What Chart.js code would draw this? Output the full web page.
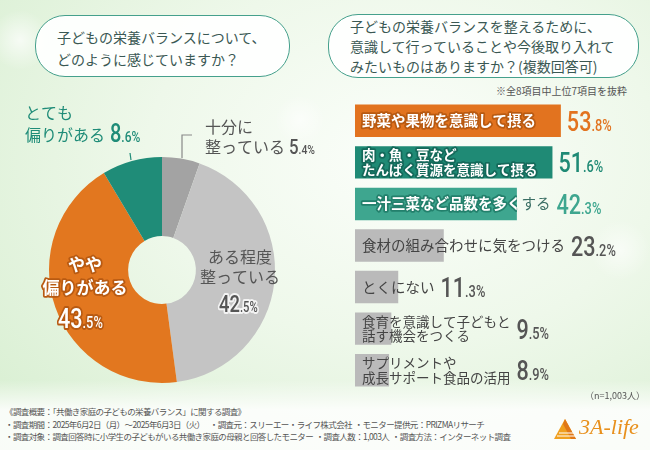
<!DOCTYPE html>
<html lang="ja">
<head>
<meta charset="utf-8">
<script src="https://cdn.jsdelivr.net/npm/chart.js@4"></script>
<style>
  html, body { margin: 0; padding: 0; }
  body {
    width: 650px; height: 450px; position: relative; overflow: hidden;
    font-family: "Noto Sans CJK JP", sans-serif;
    background:
      radial-gradient(circle at 20px 40px, rgba(255,255,255,0.7) 0, rgba(255,255,255,0) 30px),
      radial-gradient(circle at 300px 120px, rgba(255,255,255,0.6) 0, rgba(255,255,255,0) 25px),
      radial-gradient(circle at 620px 250px, rgba(255,255,255,0.6) 0, rgba(255,255,255,0) 30px),
      linear-gradient(to bottom, rgba(255,255,255,0) 380px, rgba(255,255,255,0.85) 410px),
      radial-gradient(ellipse at 62% 35%, #fbfefa 0%, #eef8ea 45%, #d6eecf 100%);
  }
  .q {
    position: absolute; box-sizing: border-box;
    border: 1.5px solid #45a08c; border-radius: 30px;
    background: rgba(255,255,255,0.92);
    color: #3a5853; font-size: 14px; line-height: 20px;
  }
  #q1 { left: 35px; top: 15px; width: 255px; height: 62px; padding: 10px 0 0 21px; line-height: 22px; }
  #q2 { left: 328px; top: 14px; width: 311px; height: 64px; padding: 1px 0 0 21px; line-height: 20px; }
  .note { position: absolute; color: #555; white-space: nowrap; }
  #excerpt { right: 23px; top: 83px; font-size: 10px; }
  #n { right: 5px; top: 389px; font-size: 9px; }
  #footer { left: 5px; top: 405px; font-size: 8.5px; letter-spacing: -0.6px; line-height: 12.5px; color: #555; }
  canvas { position: absolute; }
  #pie { left: 0; top: 100px; }
  #bars { left: 325px; top: 95px; }
  #logo { position: absolute; left: 553px; top: 418px; height: 26px; }
  #logo span {
    position: absolute; left: 26px; top: -4px;
    font-family: "Liberation Serif", serif; font-style: italic;
    font-size: 22px; color: #e8901c; white-space: nowrap;
  }
</style>
</head>
<body>
<div class="q" id="q1">子どもの栄養バランスについて、<br>どのように感じていますか？</div>
<div class="q" id="q2">子どもの栄養バランスを整えるために、<br>意識して行っていることや今後取り入れて<br>みたいものはありますか？(複数回答可)</div>
<div class="note" id="excerpt">※全8項目中上位7項目を抜粋</div>
<canvas id="pie" width="325" height="300"></canvas>
<canvas id="bars" width="325" height="300"></canvas>
<div class="note" id="n">（n=1,003人）</div>
<div class="note" id="footer">《調査概要：「共働き家庭の子どもの栄養バランス」に関する調査》<br>・調査期間：2025年6月2日（月）～2025年6月3日（火）&nbsp;&nbsp;&nbsp;&nbsp;・調査元：スリーエー・ライフ株式会社&nbsp;&nbsp;・モニター提供元：PRIZMAリサーチ<br>・調査対象：調査回答時に小学生の子どもがいる共働き家庭の母親と回答したモニター&nbsp;&nbsp;・調査人数：1,003人&nbsp;&nbsp;・調査方法：インターネット調査</div>
<div id="logo">
  <svg width="26" height="22" viewBox="0 0 26 22">
    <polygon points="12,1 1,21 23,21" fill="#f0a020"/>
    <polygon points="12,1 23,21 18,21 10,6" fill="#e07818"/>
    <line x1="6" y1="15" x2="20" y2="15" stroke="#fff" stroke-width="1"/>
    <line x1="4" y1="18" x2="22" y2="18" stroke="#fff" stroke-width="1"/>
  </svg>
  <span>3A-life</span>
</div>

<script>
// 左：円グラフ
const pieLabels = ['十分に整っている', 'ある程度整っている', 'やや偏りがある', 'とても偏りがある'];
const pieValues = [5.4, 42.5, 43.5, 8.6];
const pieColors = ['#a3a3a3', '#c4c4c4', '#e2771f', '#1f8c78'];

// 右：横棒グラフ（上位7項目）
const itemLabels = [
  ['野菜や果物を意識して摂る'],
  ['肉・魚・豆など', 'たんぱく質源を意識して摂る'],
  ['一汁三菜など品数を多くする'],
  ['食材の組み合わせに気をつける'],
  ['とくにない'],
  ['食育を意識して子どもと', '話す機会をつくる'],
  ['サプリメントや', '成長サポート食品の活用']
];
const itemValues = [53.8, 51.6, 42.3, 23.2, 11.3, 9.5, 8.9];
const itemColors = ['#e2731f', '#1f8a75', '#3ea68f', '#bababa', '#bababa', '#bababa', '#bababa'];
const valueColors = ['#e2731f', '#1f8a75', '#3ea68f', '#555555', '#555555', '#555555', '#555555'];
const textStroke = ['#b85a12', '#14695a', '#23806c', null, null, null, null];

const JP = '"Noto Sans CJK JP", sans-serif';

// 数値を「53」＋「.8%」の形で描く
function drawValue(ctx, x, y, v, big, small, color, stroke) {
  const parts = v.toFixed(1).split('.');
  const ip = parts[0], dp = '.' + parts[1] + '%';
  const sx = 0.8;
  ctx.save();
  ctx.translate(x, y);
  ctx.scale(sx, 1);
  ctx.textAlign = 'left';
  ctx.textBaseline = 'alphabetic';
  ctx.font = '500 ' + big + 'px Roboto';
  const w1 = ctx.measureText(ip).width;
  ctx.font = '500 ' + small + 'px Roboto';
  const w2 = ctx.measureText(dp).width;
  if (stroke) {
    ctx.lineJoin = 'round';
    ctx.lineWidth = 4;
    ctx.strokeStyle = stroke;
    ctx.font = '500 ' + big + 'px Roboto';
    ctx.strokeText(ip, 0, 0);
    ctx.font = '500 ' + small + 'px Roboto';
    ctx.strokeText(dp, w1, 0);
  }
  ctx.fillStyle = color;
  ctx.font = '500 ' + big + 'px Roboto';
  ctx.fillText(ip, 0, 0);
  ctx.font = '500 ' + small + 'px Roboto';
  ctx.fillText(dp, w1, 0);
  ctx.restore();
  return (w1 + w2) * sx;
}

function drawText(ctx, txt, x, y, font, color, stroke, align) {
  ctx.save();
  ctx.font = font;
  ctx.textAlign = align || 'left';
  ctx.textBaseline = 'middle';
  if (stroke) {
    ctx.lineJoin = 'round';
    ctx.lineWidth = 3.5;
    ctx.strokeStyle = stroke;
    ctx.strokeText(txt, x, y);
  }
  ctx.fillStyle = color;
  ctx.fillText(txt, x, y);
  const w = ctx.measureText(txt).width;
  ctx.restore();
  return w;
}

const pieLabelPlugin = {
  id: 'pieLabels',
  afterDatasetsDraw(chart) {
    const ctx = chart.ctx;
    const arc = chart.getDatasetMeta(0).data[0];
    const cx = arc.x, cy = arc.y;
    const f16 = '16px ' + JP;

    // 十分に整っている
    ctx.save();
    ctx.strokeStyle = '#888';
    ctx.lineWidth = 1.2;
    ctx.beginPath();
    ctx.moveTo(cx + 20, cy - 112);
    ctx.lineTo(cx + 20, cy - 135);
    ctx.lineTo(cx + 30, cy - 135);
    ctx.stroke();
    // とても偏りがある
    ctx.strokeStyle = '#1f8c78';
    ctx.beginPath();
    ctx.moveTo(cx - 31, cy - 110);
    ctx.lineTo(cx - 32, cy - 117);
    ctx.stroke();
    ctx.restore();

    drawText(ctx, '十分に', cx + 43, cy - 143, f16, '#555');
    let w = drawText(ctx, '整っている', cx + 43, cy - 123, f16, '#555');
    drawValue(ctx, cx + 43 + w + 4, cy - 116, pieValues[0], 21, 13, '#555');

    drawText(ctx, 'とても', cx - 137, cy - 157, f16, '#1f8c78');
    w = drawText(ctx, '偏りがある', cx - 137, cy - 135, f16, '#1f8c78');
    drawValue(ctx, cx - 137 + w + 5, cy - 128, pieValues[3], 25, 15, '#1f8c78');

    drawText(ctx, 'ある程度', cx + 78, cy - 13, f16, '#555', null, 'center');
    drawText(ctx, '整っている', cx + 78, cy + 7, f16, '#555', null, 'center');
    drawValue(ctx, cx + 57, cy + 42, pieValues[1], 23, 14, '#555', 'rgba(255,255,255,0.8)');

    const fb = 'bold 17px ' + JP;
    drawText(ctx, 'やや', cx - 77, cy - 5, fb, '#fff', '#b85a12', 'center');
    drawText(ctx, '偏りがある', cx - 77, cy + 18, fb, '#fff', '#b85a12', 'center');
    drawValue(ctx, cx - 104, cy + 58, pieValues[2], 27, 16, '#fff', '#b85a12');
  }
};

new Chart(document.getElementById('pie'), {
  type: 'doughnut',
  data: {
    labels: pieLabels,
    datasets: [{ data: pieValues, backgroundColor: pieColors, borderWidth: 0 }]
  },
  options: {
    responsive: false,
    animation: false,
    cutout: '30%',
    layout: { padding: { top: 57, bottom: 17, left: 49, right: 50 } },
    plugins: { legend: { display: false }, tooltip: { enabled: false } }
  },
  plugins: [pieLabelPlugin]
});

const barLabelPlugin = {
  id: 'barLabels',
  afterDatasetsDraw(chart) {
    const ctx = chart.ctx;
    const meta = chart.getDatasetMeta(0);
    meta.data.forEach((bar, i) => {
      const lines = itemLabels[i];
      const left = bar.base, right = bar.x;
      const top = bar.y - bar.height / 2, h = bar.height;
      const tx = left + 7;
      const multi = lines.length > 1;
      const size = multi ? '13.5px ' : '14.5px ';
      const font = (textStroke[i] ? 'bold ' : '') + size + JP;
      const ys = multi ? [bar.y - 7, bar.y + 7.5] : [bar.y];
      let textEnd = 0;
      lines.forEach((t, k) => {
        if (textStroke[i]) {
          // バーの中は白抜き、はみ出した部分は濃い色
          ctx.save();
          ctx.beginPath();
          ctx.rect(left, top, right - left, h);
          ctx.clip();
          const w = drawText(ctx, t, tx, ys[k], font, '#fff', textStroke[i]);
          ctx.restore();
          ctx.save();
          ctx.beginPath();
          ctx.rect(right, top - 5, 400, h + 10);
          ctx.clip();
          drawText(ctx, t, tx, ys[k], size + JP, '#3a6e64');
          ctx.restore();
          textEnd = Math.max(textEnd, tx + w);
        } else {
          const w = drawText(ctx, t, tx, ys[k], font, '#444');
          textEnd = Math.max(textEnd, tx + w);
        }
      });
      const vx = Math.max(right, textEnd) + 6;
      drawValue(ctx, vx, bar.y + 10, itemValues[i], 27, 16, valueColors[i]);
    });
  }
};

new Chart(document.getElementById('bars'), {
  type: 'bar',
  data: {
    labels: itemLabels.map(l => l.join('')),
    datasets: [{
      data: itemValues,
      backgroundColor: itemColors,
      borderWidth: 0,
      barPercentage: 1,
      categoryPercentage: 0.78
    }]
  },
  options: {
    indexAxis: 'y',
    responsive: false,
    animation: false,
    layout: { padding: { top: 5, bottom: 4, left: 30, right: 8 } },
    scales: {
      x: { display: false, min: 0, max: 75 },
      y: { display: false }
    },
    plugins: { legend: { display: false }, tooltip: { enabled: false } }
  },
  plugins: [barLabelPlugin]
});
</script>
</body>
</html>
